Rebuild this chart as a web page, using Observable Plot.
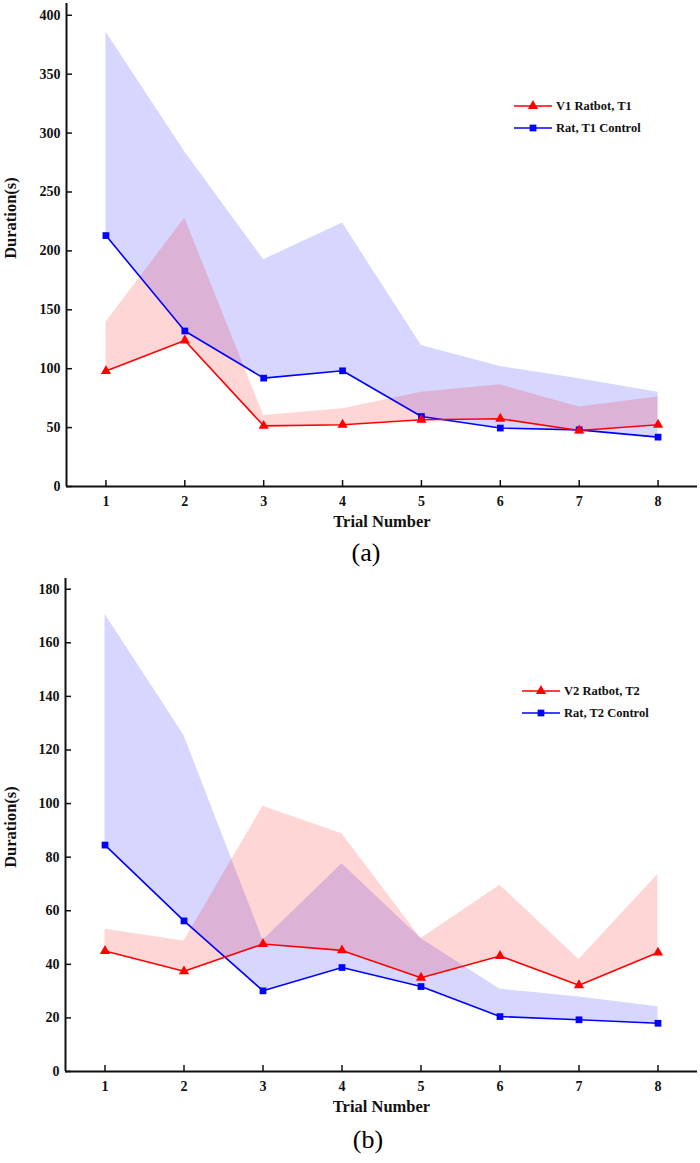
<!DOCTYPE html>
<html>
<head>
<meta charset="utf-8">
<script src="https://cdn.jsdelivr.net/npm/d3@7"></script>
<script src="https://cdn.jsdelivr.net/npm/@observablehq/plot@0.6"></script>
<style>
  body { margin: 0; background: #fff; font-family: "Liberation Serif", "Times New Roman", serif; }
  #wrap { position: relative; width: 700px; height: 1163px; overflow: hidden; }
  #wrap svg, #wrap svg text { font-family: "Liberation Serif", "Times New Roman", serif !important; }
  .panel { position: absolute; left: 0; }
  .cap { position: absolute; font-size: 26px; line-height: 26px; width: 60px; text-align: center; color: #000; }
  .lrow { position: absolute; display: flex; align-items: center; height: 16px; font-weight: bold; font-size: 12.5px; color: #111; white-space: nowrap; }
  .lrow svg { display: block; margin-right: 4px; }
</style>
</head>
<body>
<div id="wrap"></div>
<script>
// ---- data ----
const trials = [1, 2, 3, 4, 5, 6, 7, 8];
const xDomain = [0.5, 8.5];
const xTicks = [1, 2, 3, 4, 5, 6, 7, 8];

// Panel (a)
const yDomainA = [0, 410];
const yTicksA = [0, 50, 100, 150, 200, 250, 300, 350, 400];
const ratbotNameA = "V1 Ratbot, T1";
const ratNameA = "Rat, T1 Control";
const ratbotMeanA = [98, 124, 51.5, 52.4, 56.6, 57.5, 47.6, 52.4];
const ratbotUpperA = [139.5, 228, 60.3, 66, 80.1, 86.3, 67.4, 75.9];
const ratMeanA = [213, 132, 92, 98.2, 59.4, 49.6, 48.1, 41.9];
const ratUpperA = [385.8, 283.9, 192.5, 223.6, 119.7, 101.9, 91.4, 80.1];

// Panel (b)
const yDomainB = [0, 184];
const yTicksB = [0, 20, 40, 60, 80, 100, 120, 140, 160, 180];
const ratbotNameB = "V2 Ratbot, T2";
const ratNameB = "Rat, T2 Control";
const ratbotMeanB = [45, 37.4, 47.6, 45.2, 35, 43.1, 32.2, 44.4];
const ratbotUpperB = [53.1, 48.7, 99, 88.7, 49.6, 69.5, 41.8, 73.6];
const ratMeanB = [84.5, 56.2, 30.1, 38.8, 31.7, 20.5, 19.3, 18];
const ratUpperB = [170.7, 125.4, 49, 77.5, 49.6, 30.7, 27.8, 24.2];

const xLabel = "Trial Number";
const yLabel = "Duration(s)";
const ratbotColor = "#ff0000";
const ratColor = "#0000ff";

function makePanel({yDomain, yTicks, ratbotMean, ratbotUpper, ratMean, ratUpper, height, marginLeft, marginBottom, labelDy}) {
  const rb = trials.map((t, i) => ({trial: t, mean: ratbotMean[i], upper: ratbotUpper[i]}));
  const rt = trials.map((t, i) => ({trial: t, mean: ratMean[i], upper: ratUpper[i]}));
  const font = {fontFamily: "Liberation Serif", fontWeight: "bold"};
  return Plot.plot({
    width: 700,
    height,
    marginTop: 3,
    marginRight: 3,
    marginLeft,
    marginBottom,
    style: {fontFamily: "Liberation Serif", background: "white", color: "#111", overflow: "visible"},
    x: {domain: xDomain},
    y: {domain: yDomain},
    marks: [
      Plot.areaY(rt, {x: "trial", y1: "mean", y2: "upper", fill: ratColor, fillOpacity: 0.16}),
      Plot.areaY(rb, {x: "trial", y1: "mean", y2: "upper", fill: ratbotColor, fillOpacity: 0.16}),
      Plot.line(rt, {x: "trial", y: "mean", stroke: ratColor, strokeWidth: 1.6}),
      Plot.line(rb, {x: "trial", y: "mean", stroke: ratbotColor, strokeWidth: 1.6}),
      Plot.dot(rt, {x: "trial", y: "mean", symbol: "square", fill: ratColor, r: 3.8}),
      Plot.dot(rb, {x: "trial", y: "mean", symbol: "triangle", fill: ratbotColor, r: 3.8}),
      Plot.ruleY([yDomain[0]], {stroke: "#111", strokeWidth: 2}),
      Plot.ruleX([xDomain[0]], {stroke: "#111", strokeWidth: 2}),
      Plot.axisX({ticks: xTicks, tickSize: -6, tickPadding: 16, strokeWidth: 1.5, fontSize: 14, ...font, label: null, tickFormat: d => String(d)}),
      Plot.axisY({ticks: yTicks, tickSize: -6, tickPadding: 12, strokeWidth: 1.5, fontSize: 14, ...font, label: null, tickFormat: d => String(d)}),
      Plot.text([xLabel], {text: d => d, frameAnchor: "bottom", dy: 40, fontSize: 16.5, ...font, fill: "#111"}),
      Plot.text([yLabel], {text: d => d, frameAnchor: "left", textAnchor: "middle", dx: 10 - marginLeft, dy: labelDy, rotate: -90, fontSize: 16.5, ...font, fill: "#111"})
    ]
  });
}

function legendRow(parent, left, top, name, color, symbol) {
  const row = document.createElement("div");
  row.className = "lrow";
  row.style.left = left + "px";
  row.style.top = top + "px";
  const svgNS = "http://www.w3.org/2000/svg";
  const s = document.createElementNS(svgNS, "svg");
  s.setAttribute("width", 38); s.setAttribute("height", 16);
  const ln = document.createElementNS(svgNS, "line");
  ln.setAttribute("x1", 0); ln.setAttribute("x2", 38); ln.setAttribute("y1", 8); ln.setAttribute("y2", 8);
  ln.setAttribute("stroke", color); ln.setAttribute("stroke-width", 1.6);
  s.appendChild(ln);
  const p = document.createElementNS(svgNS, "path");
  const sym = symbol === "triangle" ? d3.symbolTriangle : d3.symbolSquare;
  p.setAttribute("d", d3.symbol(sym, 3.8 * 3.8 * Math.PI)());
  p.setAttribute("transform", "translate(19,8)");
  p.setAttribute("fill", color);
  s.appendChild(p);
  row.appendChild(s);
  const t = document.createElement("span");
  t.textContent = name;
  row.appendChild(t);
  parent.appendChild(row);
}

const wrap = document.getElementById("wrap");

const pa = makePanel({yDomain: yDomainA, yTicks: yTicksA, ratbotMean: ratbotMeanA, ratbotUpper: ratbotUpperA,
  ratMean: ratMeanA, ratUpper: ratUpperA, height: 540, marginLeft: 66, marginBottom: 54, labelDy: -27});
pa.classList.add("panel"); pa.style.top = "0px";
wrap.appendChild(pa);

const ca = document.createElement("div");
ca.className = "cap"; ca.textContent = "(a)";
ca.style.left = (366 - 30) + "px"; ca.style.top = (553 - 13) + "px";
wrap.appendChild(ca);

const pb = makePanel({yDomain: yDomainB, yTicks: yTicksB, ratbotMean: ratbotMeanB, ratbotUpper: ratbotUpperB,
  ratMean: ratMeanB, ratUpper: ratUpperB, height: 546, marginLeft: 65, marginBottom: 50, labelDy: 2});
pb.classList.add("panel"); pb.style.top = "575px";
wrap.appendChild(pb);

const cb = document.createElement("div");
cb.className = "cap"; cb.textContent = "(b)";
cb.style.left = (368 - 30) + "px"; cb.style.top = (1140 - 13) + "px";
wrap.appendChild(cb);

legendRow(wrap, 514, 106 - 8, ratbotNameA, ratbotColor, "triangle");
legendRow(wrap, 514, 128 - 8, ratNameA, ratColor, "square");
legendRow(wrap, 522, 691 - 8, ratbotNameB, ratbotColor, "triangle");
legendRow(wrap, 522, 713 - 8, ratNameB, ratColor, "square");
</script>
</body>
</html>
